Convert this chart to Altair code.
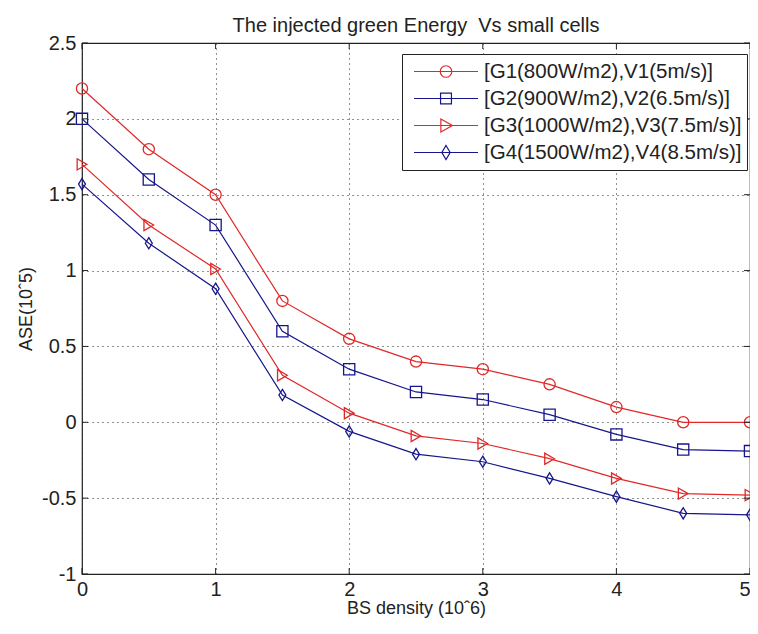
import altair as alt
import pandas as pd

# ---- data ----
density = [0, 0.5, 1, 1.5, 2, 2.5, 3, 3.5, 4, 4.5, 5]
series_names = [
    "[G1(800W/m2),V1(5m/s)]",
    "[G2(900W/m2),V2(6.5m/s)]",
    "[G3(1000W/m2),V3(7.5m/s)]",
    "[G4(1500W/m2),V4(8.5m/s)]",
]
g1 = [2.2, 1.8, 1.5, 0.8, 0.55, 0.4, 0.35, 0.25, 0.1, 0.0, 0.0]
g2 = [2.0, 1.6, 1.3, 0.6, 0.35, 0.2, 0.15, 0.05, -0.08, -0.18, -0.19]
g3 = [1.7, 1.3, 1.01, 0.31, 0.06, -0.09, -0.14, -0.24, -0.37, -0.47, -0.48]
g4 = [1.57, 1.18, 0.88, 0.18, -0.06, -0.21, -0.26, -0.37, -0.49, -0.6, -0.61]
x_ticks = [0, 1, 2, 3, 4, 5]
y_ticks = [-1, -0.5, 0, 0.5, 1, 1.5, 2, 2.5]

colors = ["#e02828", "#16168c", "#e02828", "#16168c"]
plot_shapes = ["circle", "square", "triangle-right", "M0,-1L0.62,0L0,1L-0.62,0Z"]
legend_shapes = [
    "M-1,0H1M0.18,0A0.18,0.18 0 1,1 -0.18,0A0.18,0.18 0 1,1 0.18,0",
    "M-1,0H1M-0.17,-0.17H0.17V0.17H-0.17Z",
    "M-1,0H1M-0.16,-0.2L0.2,0L-0.16,0.2Z",
    "M-1,0H1M0,-0.22L0.13,0L0,0.22L-0.13,0Z",
]

rows = []
for name, vals in zip(series_names, [g1, g2, g3, g4]):
    for xv, yv in zip(density, vals):
        rows.append({"density": xv, "ase": yv, "series": name})
df = pd.DataFrame(rows)

W, H = 668, 531
FONT = "Liberation Sans"

xenc = alt.X(
    "density:Q",
    scale=alt.Scale(domain=[0, 5], nice=False, zero=False),
    axis=alt.Axis(
        values=x_ticks, title="BS density (10ˆ6)", grid=True, gridDash=[1, 4],
        gridColor="#222", gridWidth=1, tickSize=0, domain=False,
        labelFontSize=20, labelFont=FONT, labelColor="#222", labelPadding=5,
        labelFlush=False, labelOverlap=False, labelBound=False,
        labelAlign=alt.ExprRef("datum.value == 5 ? 'right' : 'center'"),
        titleFontSize=18, titleFont=FONT, titleFontWeight="normal",
        titleColor="#222", titlePadding=0,
    ),
)
yenc = alt.Y(
    "ase:Q",
    scale=alt.Scale(domain=[-1, 2.5], nice=False, zero=False),
    axis=alt.Axis(
        values=y_ticks, title="ASE(10ˆ5)", grid=True, gridDash=[1, 4],
        gridColor="#222", gridWidth=1, tickSize=0, domain=False,
        labelFontSize=20, labelFont=FONT, labelColor="#222", labelPadding=6,
        labelFlush=False, labelOverlap=False, labelBound=False,
        labelExpr="toString(datum.value)",
        titleFontSize=18, titleFont=FONT, titleFontWeight="normal",
        titleColor="#222", titlePadding=6,
    ),
)

color_scale = alt.Scale(domain=series_names, range=colors)

lines = alt.Chart(df).mark_line(strokeWidth=1.2).encode(
    x=xenc, y=yenc,
    color=alt.Color("series:N", scale=color_scale, legend=None),
)

points = alt.Chart(df).mark_point(filled=False, size=125, strokeWidth=1.3, opacity=1).encode(
    x=xenc, y=yenc,
    color=alt.Color("series:N", scale=color_scale, legend=None),
    shape=alt.Shape("series:N", scale=alt.Scale(domain=series_names, range=plot_shapes), legend=None),
)

legend_layer = alt.Chart(df).transform_filter("false").mark_point(
    filled=False, strokeWidth=1.2, opacity=1
).encode(
    x=xenc, y=yenc,
    color=alt.Color(
        "series:N", scale=alt.Scale(domain=series_names, range=colors),
        legend=alt.Legend(title=None, orient="none", legendX=320, legendY=11),
    ),
    shape=alt.Shape(
        "series:N", scale=alt.Scale(domain=series_names, range=legend_shapes),
        legend=alt.Legend(title=None, orient="none", legendX=320, legendY=11),
    ),
)

# inward tick marks on all four sides
xt = pd.DataFrame({"density": x_ticks})
yt = pd.DataFrame({"ase": y_ticks})
tick_bottom = alt.Chart(xt).mark_rule(color="#222", strokeWidth=1).encode(
    x=xenc, y=alt.value(H), y2=alt.value(H - 6))
tick_top = alt.Chart(xt).mark_rule(color="#222", strokeWidth=1).encode(
    x=xenc, y=alt.value(0), y2=alt.value(6))
tick_left = alt.Chart(yt).mark_rule(color="#222", strokeWidth=1).encode(
    y=yenc, x=alt.value(0), x2=alt.value(6))
tick_right = alt.Chart(yt).mark_rule(color="#222", strokeWidth=1).encode(
    y=yenc, x=alt.value(W), x2=alt.value(W - 6))

chart = alt.layer(
    lines, points, legend_layer, tick_bottom, tick_top, tick_left, tick_right
).resolve_scale(
    color="independent", shape="independent"
).properties(
    width=W, height=H,
    title=alt.TitleParams(
        "The injected green Energy \u00a0Vs small cells", fontSize=20,
        font=FONT, fontWeight="normal", color="#222", offset=0, dy=3,
        anchor="middle",
    ),
    autosize=alt.AutoSizeParams(type="none"),
    padding={"left": 74, "top": 35, "right": 0, "bottom": 48},
).configure_view(
    stroke="#222", strokeWidth=1.2
).configure_legend(
    symbolSize=4096, clipHeight=25, rowPadding=2, padding=5,
    symbolOffset=6, labelOffset=5, symbolStrokeWidth=1.2,
    labelFont=FONT, labelFontSize=20.5, labelColor="#222", labelLimit=400,
    strokeColor="#222", fillColor="white", cornerRadius=0,
)

chart.save("out.html", embed_options={"renderer": "svg", "actions": False})
